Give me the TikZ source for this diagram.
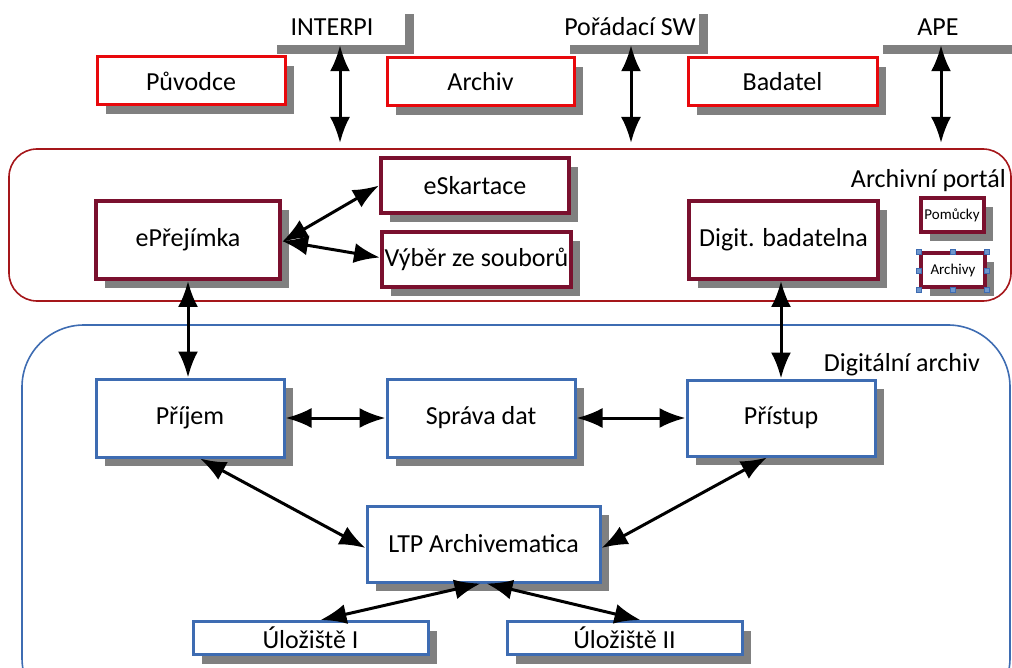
\documentclass[tikz,border=0pt]{standalone}
\usepackage{fontspec}
\setmainfont{Carlito}
\usetikzlibrary{arrows.meta,shadows}
\definecolor{boxred}{RGB}{232,8,12}
\definecolor{maroon}{RGB}{122,16,46}
\definecolor{portalred}{RGB}{165,22,26}
\definecolor{archblue}{RGB}{62,108,178}
\definecolor{shadowgray}{RGB}{128,128,128}
\definecolor{handleblue}{RGB}{110,150,205}
\tikzset{
  shad/.style={drop shadow={shadow xshift=9pt,shadow yshift=-9pt,fill=shadowgray,opacity=1}},
  ext/.style={shad,fill=white,inner sep=0pt},
  bigtext/.style={font=\fontsize{26}{30}\selectfont},
  actor/.style={shad,bigtext,draw=boxred,line width=3pt,fill=white,inner sep=0pt},
  portalbox/.style={shad,bigtext,draw=maroon,line width=4pt,fill=white,inner sep=0pt},
  smallbox/.style={shad,draw=maroon,line width=4pt,fill=white,font=\fontsize{15}{17}\selectfont,inner sep=0pt},
  dabox/.style={shad,bigtext,draw=archblue,line width=3pt,fill=white,inner sep=0pt},
  lbl/.style={bigtext,inner sep=0pt},
  link/.style={line width=3pt,{Latex[length=26pt,width=20pt]}-{Latex[length=26pt,width=20pt]}},
  handle/.style={draw=archblue,fill=handleblue,line width=0.6pt,minimum size=5pt,inner sep=0pt}
}
\begin{document}
\begin{tikzpicture}[x=1pt,y=-1pt]
\useasboundingbox (0,0) rectangle (1012,668);

% outer areas
\draw[portalred,line width=1.6pt,rounded corners=28pt] (9,149) rectangle (1011,301);
\draw[archblue,line width=1.6pt,rounded corners=62pt] (22,325) rectangle (1010,720);
\node[lbl,anchor=east] (portallbl) at (1006,181) {Archivní portál};
\node[lbl,anchor=east] (dalbl) at (980,365) {Digitální archiv};

% external systems
\node[ext,minimum width=137pt,minimum height=40pt] (interpi) at (336.5,25) {};
\node[lbl] (interpit) at (332,27) {INTERPI};
\node[ext,minimum width=138pt,minimum height=40pt] (sw) at (630,25) {};
\node[lbl] (swt) at (630,27) {Pořádací SW};
\node[ext,minimum width=160pt,minimum height=40pt] (ape) at (954,25) {};
\node[lbl] (apet) at (938,27) {APE};

% actors
\node[actor,minimum width=188pt,minimum height=48pt] (puv) at (191,81) {Původce};
\node[actor,minimum width=187pt,minimum height=48pt] (arch) at (480.5,82) {Archiv};
\node[actor,minimum width=189pt,minimum height=48pt] (bad) at (782.5,82) {Badatel};

% archival portal
\node[portalbox,minimum width=184pt,minimum height=78pt] (prej) at (188,240) {ePřejímka};
\node[portalbox,minimum width=188pt,minimum height=55pt] (skart) at (475,185.5) {eSkartace};
\node[portalbox,minimum width=189pt,minimum height=55pt] (vyber) at (476.5,259.5) {Výběr ze souborů};
\node[portalbox,minimum width=189pt,minimum height=78pt] (digbad) at (783.5,240) {Digit. badatelna};
\node[smallbox,minimum width=63pt,minimum height=34pt] (pom) at (952,215) {Pomůcky};
\node[smallbox,minimum width=64pt,minimum height=34pt] (archivy) at (953,270.5) {Archivy};
\foreach \a in {north west,north,north east,west,east,south west,south,south east}
  \node[handle] at (archivy.\a) {};

% digital archive
\node[dabox,minimum width=188pt,minimum height=78pt] (prijem) at (190,418) {Příjem};
\node[dabox,minimum width=188pt,minimum height=78pt] (sprava) at (481,418) {Správa dat};
\node[dabox,minimum width=188pt,minimum height=76pt] (pristup) at (781,418) {Přístup};
\node[dabox,minimum width=233pt,minimum height=76pt] (ltp) at (483.5,544) {LTP Archivematica};
\node[dabox,minimum width=235pt,minimum height=33pt] (ul1) at (310.5,638) {Úložiště I};
\node[dabox,minimum width=235pt,minimum height=33pt] (ul2) at (624.5,638) {Úložiště II};

% connectors
\coordinate (interpiend) at (340,143);
\coordinate (swend) at (631,143);
\coordinate (apeend) at (941,143);
\draw[link] (interpi.south -| interpiend) -- (interpiend);
\draw[link] (sw.south -| swend) -- (swend);
\draw[link] (ape.south -| apeend) -- (apeend);

\draw[link] ([yshift=-2pt]prej.east) -- (skart.west);
\draw[link] ([yshift=-1pt]prej.east) -- ([yshift=2pt]vyber.west);
\draw[link] (prej.south) -- (prej.south |- prijem.north);
\draw[link] (digbad.south -| pristup.north) -- (pristup.north);

\draw[link] (prijem.east) -- (sprava.west);
\draw[link] (sprava.east) -- (pristup.west);
\draw[link] ([xshift=10pt]prijem.south) -- ([yshift=-4pt]ltp.west);
\draw[link] ([xshift=-14pt]pristup.south) -- ([yshift=-4pt]ltp.east);
\draw[link] ([xshift=-3pt]ltp.south) -- ([xshift=10pt]ul1.north);
\draw[link] ([xshift=3pt]ltp.south) -- ([xshift=16pt]ul2.north);
\end{tikzpicture}
\end{document}
